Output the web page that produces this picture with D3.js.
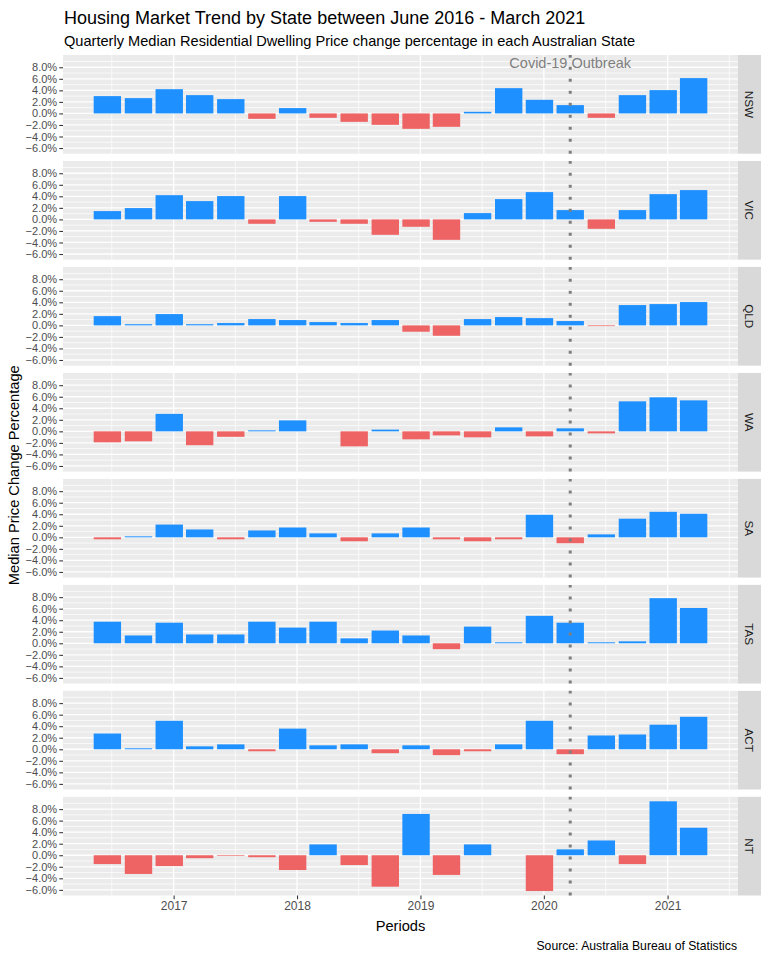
<!DOCTYPE html>
<html>
<head>
<meta charset="utf-8">
<script src="https://cdn.jsdelivr.net/npm/d3@7/dist/d3.min.js"></script>
<style>
  html, body { margin: 0; padding: 0; background: #ffffff; }
  svg { display: block; font-family: "Liberation Sans", Arial, sans-serif; }
</style>
</head>
<body>
<svg id="chart" width="768" height="960"></svg>
<script>
// ---------------- DATA ----------------
const periods = ["2016-06-19","2016-09-19","2016-12-19","2017-03-19","2017-06-19","2017-09-19","2017-12-19",
  "2018-03-19","2018-06-19","2018-09-19","2018-12-19","2019-03-19","2019-06-19","2019-09-19","2019-12-19",
  "2020-03-19","2020-06-19","2020-09-19","2020-12-19","2021-03-19"];
const states = ["NSW","VIC","QLD","WA","SA","TAS","ACT","NT"];
const nsw = [3.0, 2.65, 4.2, 3.17, 2.48, -0.94, 0.92, -0.76, -1.46, -1.98, -2.67, -2.32, 0.28, 4.38, 2.36, 1.44, -0.76, 3.17, 4.04, 6.12];
const vic = [1.44, 1.96, 4.2, 3.17, 4.04, -0.76, 4.04, -0.42, -0.76, -2.67, -1.28, -3.54, 1.09, 3.52, 4.73, 1.61, -1.63, 1.61, 4.38, 5.08];
const qld = [1.6, 0.2, 1.96, 0.2, 0.4, 1.09, 0.92, 0.57, 0.4, 0.92, -1.1, -1.8, 1.09, 1.44, 1.26, 0.75, -0.12, 3.52, 3.69, 4.04];
const wa  = [-1.9, -1.73, 3.03, -2.4, -0.95, 0.17, 1.9, 0, -2.6, 0.3, -1.38, -0.7, -1.04, 0.69, -0.87, 0.52, -0.35, 5.2, 5.9, 5.37];
const sa  = [-0.34, 0.17, 2.21, 1.36, -0.34, 1.19, 1.7, 0.68, -0.68, 0.68, 1.7, -0.34, -0.68, -0.34, 3.91, -1.02, 0.51, 3.23, 4.42, 4.08];
const tas = [3.74, 1.36, 3.57, 1.53, 1.53, 3.74, 2.72, 3.74, 0.85, 2.21, 1.36, -1.02, 2.89, 0.17, 4.76, 3.57, 0.17, 0.34, 7.82, 6.12];
const act = [2.73, 0.17, 4.94, 0.51, 0.85, -0.34, 3.58, 0.68, 0.85, -0.68, 0.68, -1.02, -0.34, 0.85, 4.94, -0.85, 2.39, 2.56, 4.26, 5.63];
const nt  = [-1.53, -3.24, -1.88, -0.51, -0.11, -0.34, -2.56, 1.88, -1.7, -5.45, 7.16, -3.41, 1.88, 0, -6.2, 1.02, 2.56, -1.53, 9.35, 4.77];
const seriesValues = [nsw, vic, qld, wa, sa, tas, act, nt];
const yTicks = [-6, -4, -2, 0, 2, 4, 6, 8];
const xTickYears = ["2017-01-01","2018-01-01","2019-01-01","2020-01-01","2021-01-01"];
const covidDate = "2020-03-19";
const covidLabel = "Covid-19 Outbreak";
const covidLabelValue = 8.7;
const titleText = "Housing Market Trend by State between June 2016 - March 2021";
const subtitleText = "Quarterly Median Residential Dwelling Price change percentage in each Australian State";
const captionText = "Source: Australia Bureau of Statistics";
const xTitle = "Periods";
const yTitle = "Median Price Change Percentage";

// ---------------- LAYOUT ----------------
const svg = d3.select("#chart");
const parse = d3.timeParse("%Y-%m-%d");
const dates = periods.map(parse);
const DAY = 86400000;

const panelLeft = 63, panelRight = 738, stripW = 23;
const plotTop = 55, plotBottom = 895.5, gap = 7.3;
const nP = states.length;
const panelH = (plotBottom - plotTop - gap * (nP - 1)) / nP;

const POS = "#1E90FF", NEG = "#EE6363";

// x scale (bars 0.9 * resolution wide, 5% expansion like ggplot)
let res = Infinity;
for (let i = 1; i < dates.length; i++) res = Math.min(res, (dates[i] - dates[i-1]) / DAY);
const barDays = 0.9 * res;
const xmin = +dates[0] - barDays / 2 * DAY, xmax = +dates[dates.length-1] + barDays / 2 * DAY;
const xpad = (xmax - xmin) * 0.05;
const x = d3.scaleTime().domain([new Date(xmin - xpad), new Date(xmax + xpad)]).range([panelLeft, panelRight]);
const barW = x(new Date(+dates[0] + barDays * DAY)) - x(dates[0]);

// y domain (fixed scales across facets)
const allV = seriesValues.flat().concat([0]);
const vmin = d3.min(allV), vmax = d3.max(allV);
const ypad = (vmax - vmin) * 0.05;
const yDomain = [vmin - ypad, vmax + ypad];

// gridline positions
const xMajor = xTickYears.map(parse);
const xMinor = [];
const xDom = x.domain();
const allYears = d3.timeYear.range(d3.timeYear.offset(d3.timeYear.floor(xDom[0]), -1), d3.timeYear.offset(xDom[1], 1));
for (let i = 0; i < allYears.length - 1; i++) {
  const mid = new Date((+allYears[i] + +allYears[i+1]) / 2);
  if (mid >= xDom[0] && mid <= xDom[1]) xMinor.push(mid);
}
const yMinorVals = d3.range(Math.ceil(yDomain[0]), Math.floor(yDomain[1]) + 1).filter(v => Math.abs(v) % 2 === 1);

states.forEach((st, pi) => {
  const top = plotTop + pi * (panelH + gap);
  const y = d3.scaleLinear().domain(yDomain).range([top + panelH, top]);
  const g = svg.append("g").attr("class", "panel-" + st);

  g.append("rect").attr("x", panelLeft).attr("y", top).attr("width", panelRight - panelLeft).attr("height", panelH).attr("fill", "#EBEBEB");

  // minor gridlines
  g.selectAll(".ymin").data(yMinorVals).enter().append("line")
    .attr("x1", panelLeft).attr("x2", panelRight).attr("y1", d => y(d)).attr("y2", d => y(d))
    .attr("stroke", "#fff").attr("stroke-width", 0.7);
  g.selectAll(".xmin").data(xMinor).enter().append("line")
    .attr("y1", top).attr("y2", top + panelH).attr("x1", d => x(d)).attr("x2", d => x(d))
    .attr("stroke", "#fff").attr("stroke-width", 0.7);
  // major gridlines
  g.selectAll(".ymaj").data(yTicks).enter().append("line")
    .attr("x1", panelLeft).attr("x2", panelRight).attr("y1", d => y(d)).attr("y2", d => y(d))
    .attr("stroke", "#fff").attr("stroke-width", 1.3);
  g.selectAll(".xmaj").data(xMajor).enter().append("line")
    .attr("y1", top).attr("y2", top + panelH).attr("x1", d => x(d)).attr("x2", d => x(d))
    .attr("stroke", "#fff").attr("stroke-width", 1.3);

  // bars
  const vals = seriesValues[pi];
  g.selectAll(".bar").data(vals).enter().append("rect")
    .attr("x", (d, i) => x(dates[i]) - barW / 2)
    .attr("width", barW)
    .attr("y", d => y(Math.max(0, d)))
    .attr("height", d => Math.abs(y(d) - y(0)))
    .attr("fill", d => d >= 0 ? POS : NEG);

  // covid line
  const cx = x(parse(covidDate));
  g.append("line").attr("x1", cx).attr("x2", cx).attr("y1", top + panelH).attr("y2", top)
    .attr("stroke", "#7F7F7F").attr("stroke-width", 3).attr("stroke-dasharray", "3,9");

  if (pi === 0) {
    g.append("text").attr("x", cx).attr("y", y(covidLabelValue)).attr("dy", "0.35em")
      .attr("text-anchor", "middle").attr("font-size", "14.5px").attr("fill", "#7F7F7F").text(covidLabel);
  }

  // y axis
  const yAxis = d3.axisLeft(y).tickValues(yTicks).tickSize(3.7).tickPadding(2.2)
    .tickFormat(d => d3.format(".1f")(d) + "%");
  const ya = g.append("g").attr("transform", `translate(${panelLeft},0)`).call(yAxis);
  ya.select(".domain").remove();
  ya.selectAll(".tick line").attr("stroke", "#333333").attr("stroke-width", 1.07);
  ya.selectAll(".tick text").attr("fill", "#4D4D4D").attr("font-size", "11px").attr("font-family", "Liberation Sans, Arial, sans-serif");

  // strip
  g.append("rect").attr("x", panelRight).attr("y", top).attr("width", stripW).attr("height", panelH).attr("fill", "#D9D9D9");
  g.append("text").attr("transform", `translate(${panelRight + stripW / 2},${top + panelH / 2}) rotate(90)`)
    .attr("text-anchor", "middle").attr("dy", "0.35em").attr("font-size", "11.7px").attr("fill", "#1A1A1A").text(st);

  if (pi === nP - 1) {
    const xAxis = d3.axisBottom(x).tickValues(xMajor).tickSize(3.7).tickPadding(2.5).tickFormat(d3.timeFormat("%Y"));
    const xa = g.append("g").attr("transform", `translate(0,${top + panelH})`).call(xAxis);
    xa.select(".domain").remove();
    xa.selectAll(".tick line").attr("stroke", "#333333").attr("stroke-width", 1.07);
    xa.selectAll(".tick text").attr("fill", "#4D4D4D").attr("font-size", "12px").attr("font-family", "Liberation Sans, Arial, sans-serif");
  }
});

// titles
svg.append("text").attr("x", panelLeft + 1).attr("y", 23.5).attr("font-size", "18px").attr("fill", "#000").text(titleText);
svg.append("text").attr("x", panelLeft + 1).attr("y", 46).attr("font-size", "14.6px").attr("fill", "#000").text(subtitleText);
svg.append("text").attr("x", (panelLeft + panelRight) / 2).attr("y", 931).attr("text-anchor", "middle")
  .attr("font-size", "14.67px").attr("fill", "#000").text(xTitle);
svg.append("text").attr("transform", `translate(19,${(plotTop + plotBottom) / 2}) rotate(-90)`).attr("text-anchor", "middle")
  .attr("font-size", "14.67px").attr("fill", "#000").text(yTitle);
svg.append("text").attr("x", panelRight - 1).attr("y", 950).attr("text-anchor", "end")
  .attr("font-size", "12.2px").attr("fill", "#000").text(captionText);
</script>
</body>
</html>
